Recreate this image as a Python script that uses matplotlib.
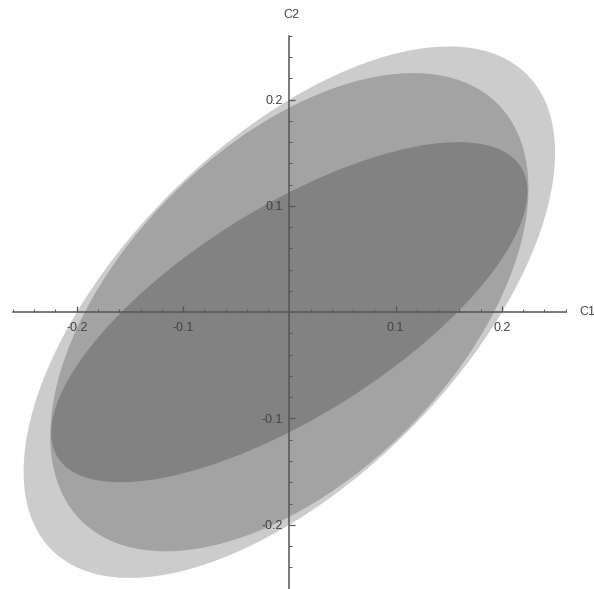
import numpy as np
import matplotlib.pyplot as plt
from matplotlib.patches import Ellipse

# covariance entries of the three ellipses (largest first)
var_x = [0.0625, 0.0506, 0.0502]
var_y = [0.0625, 0.0506, 0.0256]
cov_xy = [0.0375, 0.0262, 0.0254]

major_ticks = [-0.2, -0.1, 0.1, 0.2]
tick_labels = ["-0.2", "-0.1", "0.1", "0.2"]
minor_ticks = np.round(np.arange(-0.26, 0.261, 0.02), 2)

fig = plt.figure(figsize=(5.94, 5.89), dpi=100)
ax = fig.add_axes([0, 0, 1, 1])

for sx, sy, sxy in zip(var_x, var_y, cov_xy):
    vals, vecs = np.linalg.eigh(np.array([[sx, sxy], [sxy, sy]]))
    ang = np.degrees(np.arctan2(vecs[1, 1], vecs[0, 1]))
    ax.add_patch(Ellipse((0, 0), 2 * np.sqrt(vals[1]), 2 * np.sqrt(vals[0]),
                         angle=ang, facecolor="black", alpha=0.2,
                         edgecolor="none", zorder=1))

ax.set_xlim(-0.2722, 0.2866)
ax.set_ylim(-0.2604, 0.2937)

axis_col = "#555555"
for side in ["top", "right"]:
    ax.spines[side].set_visible(False)
for side in ["left", "bottom"]:
    ax.spines[side].set_position("zero")
    ax.spines[side].set_bounds(-0.26, 0.26)
    ax.spines[side].set_color(axis_col)
    ax.spines[side].set_linewidth(1.1)

ax.set_xticks(major_ticks)
ax.set_xticklabels(tick_labels)
ax.set_yticks(major_ticks)
ax.set_yticklabels(tick_labels)
ax.set_xticks(minor_ticks, minor=True)
ax.set_yticks(minor_ticks, minor=True)
ax.tick_params(which="major", direction="in", length=4.5, width=0.9,
               color=axis_col, labelsize=9, labelcolor="#444444", pad=5)
ax.tick_params(axis="x", which="major", pad=7)
ax.tick_params(which="minor", direction="in", length=2.5, width=0.7,
               color=axis_col)
for lbl in ax.get_xticklabels() + ax.get_yticklabels():
    lbl.set_family("Liberation Sans")

ax.text(0.2725, 0, "C1", ha="left", va="center", fontsize=9,
        color="#444444", family="Liberation Sans")
ax.text(0.002, 0.2796, "C2", ha="center", va="center", fontsize=9,
        color="#444444", family="Liberation Sans")

fig.savefig("out.png", dpi=100)
